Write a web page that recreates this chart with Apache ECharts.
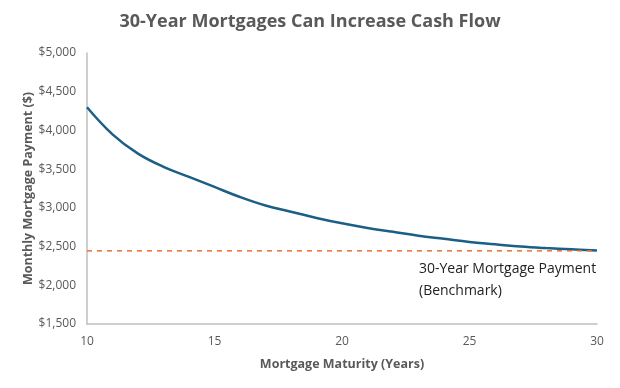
<!DOCTYPE html>
<html>
<head>
<meta charset="utf-8">
<script src="https://cdn.jsdelivr.net/npm/echarts@6/dist/echarts.min.js"></script>
<style>html,body{margin:0;padding:0;background:#fff}#c{width:620px;height:388px}</style>
</head>
<body>
<div id="c"></div>
<script>
const maturityYears = [10,11,12,13,14,15,16,17,18,19,20,21,22,23,24,25,26,27,28,29,30];
const monthlyPayment = [4300,3950,3700,3530,3400,3270,3140,3030,2950,2870,2800,2740,2690,2640,2600,2560,2530,2500,2480,2465,2450];
const benchmarkYears = [10,30];
const benchmarkPayment = [2445,2445];
const yTickLabelsFmt = v => '$' + v.toLocaleString('en-US');

const chart = echarts.init(document.getElementById('c'));
const font = '"Open Sans", "Noto Sans", sans-serif';
chart.setOption({
  animation: false,
  title: {
    text: '30-Year Mortgages Can Increase Cash Flow',
    left: 'center', top: 8,
    textStyle: {fontFamily: font, fontSize: 18, fontWeight: 'bold', color: '#595959'}
  },
  grid: {left: 87, right: 23, top: 53, bottom: 64},
  xAxis: {
    type: 'value', min: 10, max: 30, interval: 5,
    name: 'Mortgage Maturity (Years)', nameLocation: 'middle', nameGap: 34,
    nameMoveOverlap: false,
    nameTextStyle: {fontFamily: font, fontSize: 12.5, fontWeight: 'bold', color: '#595959'},
    axisLine: {show: true, lineStyle: {color: '#bfbfbf', width: 1.5}},
    axisTick: {show: false},
    splitLine: {show: false},
    axisLabel: {fontFamily: font, fontSize: 12, color: '#595959', margin: 12}
  },
  yAxis: {
    type: 'value', min: 1500, max: 5000, interval: 500,
    name: 'Monthly Mortgage Payment ($)', nameLocation: 'middle', nameGap: 52,
    nameMoveOverlap: false,
    nameTextStyle: {fontFamily: font, fontSize: 12.5, fontWeight: 'bold', color: '#595959'},
    axisLine: {show: true, lineStyle: {color: '#bfbfbf', width: 1.5}},
    axisTick: {show: false},
    splitLine: {show: false},
    axisLabel: {fontFamily: font, fontSize: 12, color: '#595959', margin: 11, formatter: yTickLabelsFmt}
  },
  series: [
    {
      type: 'line', smooth: 0.4, symbol: 'none',
      data: maturityYears.map((x,i)=>[x, monthlyPayment[i]]),
      lineStyle: {color: '#1c5f86', width: 2.5}
    },
    {
      type: 'line', symbol: 'none',
      data: benchmarkYears.map((x,i)=>[x, benchmarkPayment[i]]),
      lineStyle: {color: '#e97132', width: 1.5, type: [5,5]}
    }
  ],
  graphic: [{
    type: 'text', left: 419, top: 258,
    style: {text: '30-Year Mortgage Payment\n(Benchmark)', fontFamily: font, fontSize: 14, lineHeight: 22, fill: '#222'}
  }]
});
</script>
</body>
</html>
